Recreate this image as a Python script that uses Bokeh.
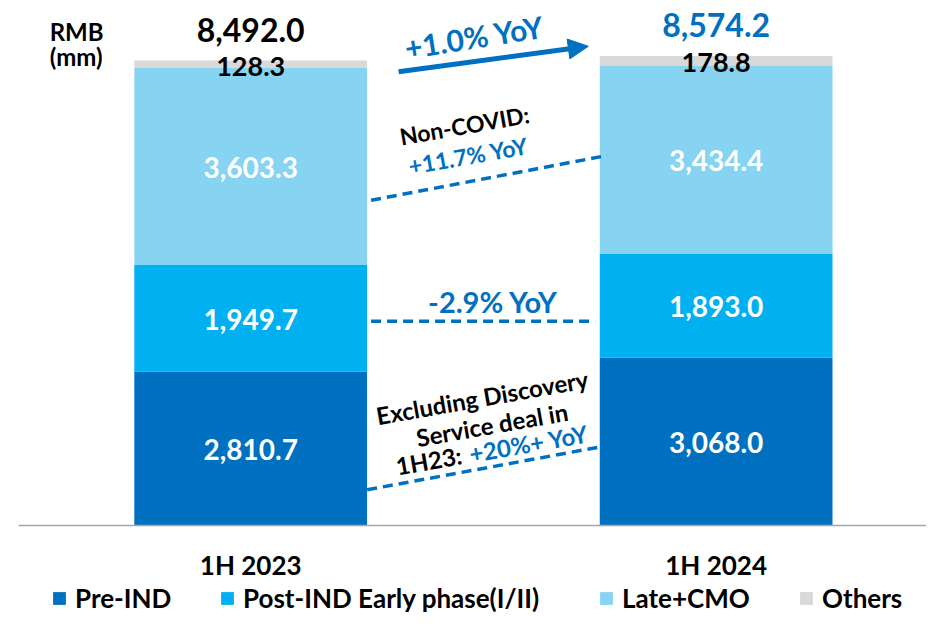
import math
from bokeh.plotting import figure
from bokeh.models import (ColumnDataSource, FixedTicker, Legend, LegendItem,
                          Arrow, NormalHead)
from bokeh.core.properties import value
from bokeh.embed import file_html
from bokeh.resources import INLINE

# ---------------- data ----------------
periods = ["1H 2023", "1H 2024"]
segments = ["Pre-IND", "Post-IND Early phase(I/II)", "Late+CMO", "Others"]
pre_ind = [2810.7, 3068.0]
post_ind = [1949.7, 1893.0]
late_cmo = [3603.3, 3434.4]
others = [128.3, 178.8]
totals = [8492.0, 8574.2]
total_labels = ["8,492.0", "8,574.2"]
colors = ["#0070C0", "#00B0F0", "#87D3F2", "#D9D9D9"]

BLUE = "#0070C0"
FONT = value("Lato")

W, H = 926, 615
SX, SY = W / 942.0, H / 631.0          # reference picture -> figure scale

# ------------- geometry helpers (reference pixels -> data units, annotations only) -------------
X_PX1, X_UNIT = 254.5, 473.5             # ref pixel of x=1, ref pixels per x unit
FL = 18                                  # frame left in figure pixels
BASE_PX = round(539 * SY) / SY           # ref pixel of y=0
Y_UNIT = 477.0 / 8492.0                  # ref pixels per y unit


def dx(px):
    return 1 + (px - X_PX1) / X_UNIT


def dy(py):
    return (BASE_PX - py) / Y_UNIT


p = figure(width=W, height=H, output_backend="svg", toolbar_location=None,
           x_range=(dx(FL / SX), dx(942)), y_range=(dy(631), dy(0)),
           y_axis_location=None, min_border_left=FL, min_border_right=0,
           min_border_top=0, min_border_bottom=0)
p.outline_line_color = None
p.xgrid.visible = False
p.ygrid.visible = False
p.background_fill_color = "white"

xs = list(range(1, len(periods) + 1))
src = ColumnDataSource(dict(x=xs, pre=pre_ind, post=post_ind, late=late_cmo,
                            oth=others, total=totals, tl=total_labels))
rends = p.vbar_stack(["pre", "post", "late", "oth"], x="x", width=0.5,
                     color=colors, line_color=None, source=src)

# axis, pinned at y = 0
ax = p.xaxis[0]
ax.fixed_location = 0
ax.ticker = FixedTicker(ticks=xs)
ax.major_label_overrides = {x: lab for x, lab in zip(xs, periods)}
ax.major_tick_out = 0
ax.major_tick_in = 0
ax.minor_tick_out = 0
ax.minor_tick_in = 0
ax.axis_line_color = "#A6A6A6"
ax.axis_line_width = 1.5
ax.major_label_text_font = "Lato"
ax.major_label_text_font_style = "bold"
ax.major_label_text_font_size = "26px"
ax.major_label_text_color = "black"
ax.major_label_standoff = 23

# segment value labels
seg_lists = [pre_ind, post_ind, late_cmo]
bottoms = [0.0, 0.0]
for vals in seg_lists:
    mids = [b + v / 2 for b, v in zip(bottoms, vals)]
    labs = [f"{v:,.1f}" for v in vals]
    p.text(x=xs, y=mids, text=labs, text_font=FONT, text_font_style="bold",
           text_font_size="28px", text_color="white", text_align="center",
           text_baseline="middle", y_offset=1)
    bottoms = [b + v for b, v in zip(bottoms, vals)]

# others labels
p.text(x=xs, y=totals, text=[f"{v:,.1f}" for v in others], text_font=FONT,
       text_font_style="bold", text_font_size="27px", text_color="black",
       text_align="center", text_baseline="middle", y_offset=6)
# totals
p.text(x=xs, y=totals, text=total_labels, text_font=FONT, text_font_style="bold",
       text_font_size="32px", text_color=["black", BLUE], text_align="center",
       text_baseline="middle", y_offset=-31)

# unit label
p.text(x=[dx(50)] * 2, y=[dy(32), dy(57)], text=["RMB", "(mm)"], text_font=FONT,
       text_font_style="bold", text_font_size="24px", text_color="black",
       text_align="left", text_baseline="middle")

# YoY arrow
p.add_layout(Arrow(end=NormalHead(size=20, fill_color=BLUE, line_color=BLUE),
                   x_start=dx(405), y_start=dy(73), x_end=dx(598), y_end=dy(47),
                   line_color=BLUE, line_width=5))

ANG = math.radians(10)


def note(px, py, txt, color, size, angle=ANG, align="center"):
    p.text(x=[dx(px)], y=[dy(py)], text=[txt], text_font=FONT,
           text_font_style="bold", text_font_size=size, text_color=color,
           text_align=align, text_baseline="middle", angle=angle)


note(482, 37, "+1.0% YoY", BLUE, "30px", angle=math.radians(9))
note(472, 128, "Non-COVID:", "black", "23px")
note(476, 159, "+11.7% YoY", BLUE, "23px")
note(501, 309, "-2.9% YoY", BLUE, "29px", angle=0)
note(490, 407, "Excluding Discovery", "black", "24px")
note(500, 435, "Service deal in", "black", "24px")
note(469, 466, "1H23:", "black", "24px", align="right")
note(477, 465, "+20%+ YoY", BLUE, "24px", align="left")

# dashed connectors
p.segment(x0=[dx(377), dx(377), dx(373)], y0=[dy(205), dy(329), dy(502)],
          x1=[dx(617), dx(605), dx(610)], y1=[dy(159), dy(329), dy(458)],
          line_color=BLUE, line_width=3.5, line_dash="10 6")

# legend: one entry per box, placed under the category labels
sq_left = [52, 223, 608, 812]
for r, name, xl in zip(rends, segments, sq_left):
    lg = Legend(items=[LegendItem(label=name, renderers=[r])],
                location=(round(xl * SX) - FL, 1), orientation="horizontal",
                glyph_width=16, glyph_height=16, label_standoff=8,
                label_text_font="Lato", label_text_font_style="bold",
                label_text_font_size="26px", label_text_color="black",
                padding=0, margin=0, border_line_color=None,
                background_fill_alpha=0)
    p.add_layout(lg, "center")

open("out.html", "w").write(file_html(p, INLINE))
